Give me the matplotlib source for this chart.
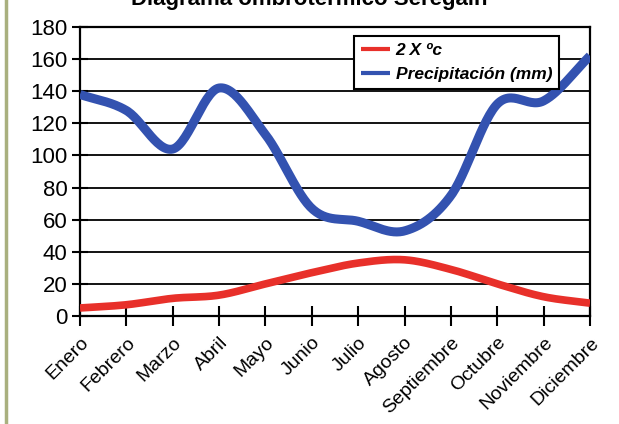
import numpy as np
import matplotlib
matplotlib.use("Agg")
import matplotlib.pyplot as plt
from matplotlib.lines import Line2D

months = ["Enero", "Febrero", "Marzo", "Abril", "Mayo", "Junio", "Julio",
          "Agosto", "Septiembre", "Octubre", "Noviembre", "Diciembre"]
temp2x = [5, 7, 11, 13, 20, 27, 33, 35, 29, 20, 12, 8]
precip = [138, 128, 104, 142, 113, 67, 59, 53, 75, 132, 134, 162]
yticks = [0, 20, 40, 60, 80, 100, 120, 140, 160, 180]
title = "Diagrama ombrotérmico Seregain"

plt.rcParams['font.family'] = ['Liberation Sans', 'DejaVu Sans']


def smooth(xs, ys, n=30):
    xs = np.asarray(xs, float)
    ys = np.asarray(ys, float)
    m = np.zeros_like(ys)
    m[1:-1] = (ys[2:] - ys[:-2]) / (xs[2:] - xs[:-2])
    m[0] = (ys[1] - ys[0]) / (xs[1] - xs[0])
    m[-1] = (ys[-1] - ys[-2]) / (xs[-1] - xs[-2])
    ox, oy = [], []
    for i in range(len(xs) - 1):
        h = xs[i + 1] - xs[i]
        t = np.linspace(0, 1, n, endpoint=False)
        h00 = 2 * t**3 - 3 * t**2 + 1
        h10 = t**3 - 2 * t**2 + t
        h01 = -2 * t**3 + 3 * t**2
        h11 = t**3 - t**2
        ox.extend(xs[i] + t * h)
        oy.extend(h00 * ys[i] + h10 * h * m[i] + h01 * ys[i + 1] + h11 * h * m[i + 1])
    ox.append(xs[-1])
    oy.append(ys[-1])
    return np.array(ox), np.array(oy)


fig = plt.figure(figsize=(6.19, 4.24), dpi=100)
ax = fig.add_axes([80 / 619, 1 - 316 / 424, 510 / 619, 289 / 424])

x = np.arange(len(months))
sx, sy = smooth(x, temp2x)
ax.plot(sx, sy, color="#e8302a", lw=5.5, solid_capstyle="butt", label="2 X ºc", zorder=3)
px, py = smooth(x, precip)
ax.plot(px, py, color="#3352b0", lw=6.5, solid_capstyle="butt", label="Precipitación (mm)", zorder=3)

ax.set_xlim(0, 11)
ax.set_ylim(0, 180)
ax.set_yticks(yticks)
ax.set_yticklabels([str(v) for v in yticks], fontsize=16)
ax.set_xticks(x)
ax.set_xticklabels(months, rotation=45, ha="right", rotation_mode="anchor", fontsize=14)
ax.tick_params(axis="x", direction="inout", length=14, width=1.5, pad=6, color="black")
ax.tick_params(axis="y", direction="inout", length=12, width=1.5, pad=3, color="black")
ax.grid(axis="y", color="black", lw=1.3)
ax.set_axisbelow(True)
for s in ax.spines.values():
    s.set_linewidth(1.6)
    s.set_color("black")

leg = ax.legend(loc="upper left", bbox_to_anchor=(0.537, 0.968), frameon=True,
                fancybox=False, edgecolor="black", framealpha=1,
                prop={"weight": "bold", "style": "italic", "size": 12.5},
                handlelength=1.7, handletextpad=0.3, borderpad=0.4, labelspacing=0.5,
                borderaxespad=0)
leg.get_frame().set_linewidth(1.5)
for h in leg.get_lines():
    h.set_linewidth(3)

fig.text(0.5, 1.0, title, ha="center", va="center", fontsize=16, weight="bold")
fig.add_artist(Line2D([6 / 619, 6 / 619], [0, 1], color="#a9b07f", lw=2.5,
                      transform=fig.transFigure))

fig.savefig("out.png", dpi=100)
